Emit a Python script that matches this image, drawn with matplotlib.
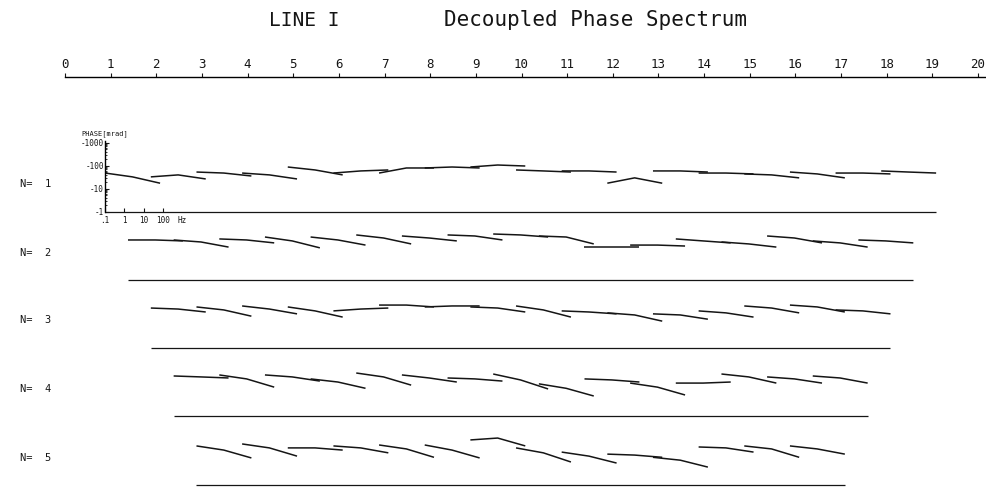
import numpy as np
import matplotlib.pyplot as plt

plt.rcParams['font.family'] = ['DejaVu Sans Mono']

# top ruler: station numbers along LINE I
stations = list(range(0, 21))

# three frequencies at which each small phase spectrum was read [Hz]
freqs = [0.1, 2.6, 70.0]

# separations and the first station of each row
n_values = [1, 2, 3, 4, 5]
first_station = [1.0, 1.5, 2.0, 2.5, 3.0]

# decoupled phase [mrad] at the three freqs, one triple per station
phase_n1 = [[-47, -32, -17], [-32, -39, -26], [-52, -47, -35], [-47, -39, -26],
            [-86, -64, -39], [-47, -58, -64], [-47, -78, -78], [-78, -86, -78],
            [-86, -105, -95], [-64, -58, -52], [-58, -58, -52], [-17, -29, -17],
            [-58, -58, -52], [-47, -47, -43], [-43, -39, -29], [-52, -43, -29],
            [-47, -47, -43], [-58, -52, -47]]
phase_n2 = [[-55, -55, -50], [-55, -45, -27], [-61, -55, -41], [-74, -50, -25],
            [-74, -55, -33], [-91, -67, -37], [-82, -67, -50], [-91, -82, -55],
            [-100, -91, -74], [-82, -74, -37], [-27, -27, -27], [-33, -33, -30],
            [-61, -50, -41], [-45, -37, -27], [-82, -67, -41], [-50, -41, -27],
            [-55, -50, -41]]
phase_n3 = [[-52, -47, -35], [-58, -43, -23], [-64, -47, -29], [-58, -39, -21],
            [-39, -47, -52], [-70, -70, -58], [-58, -64, -64], [-58, -52, -35],
            [-64, -43, -21], [-39, -35, -29], [-32, -26, -14], [-29, -26, -17],
            [-39, -32, -21], [-64, -52, -32], [-70, -58, -35], [-43, -39, -29]]
phase_n4 = [[-55, -50, -45], [-61, -41, -18], [-61, -50, -33], [-41, -30, -16],
            [-74, -50, -22], [-61, -45, -30], [-45, -41, -33], [-67, -37, -15],
            [-25, -16, -7.4], [-41, -37, -30], [-27, -18, -8.2], [-27, -27, -30],
            [-67, -50, -27], [-50, -41, -27], [-55, -45, -27]]
phase_n5 = [[-50, -33, -15], [-61, -41, -18], [-41, -41, -33], [-50, -41, -25],
            [-55, -37, -16], [-55, -33, -15], [-91, -110, -50], [-41, -25, -10],
            [-27, -18, -9], [-22, -20, -16], [-16, -12, -6], [-45, -41, -27],
            [-50, -37, -16], [-50, -37, -22]]

phases = [phase_n1, phase_n2, phase_n3, phase_n4, phase_n5]

W, H = 986, 493
fig = plt.figure(figsize=(W / 100, H / 100), dpi=100)

px_per_st = 45.65
x0_px = 65
xlim = (-x0_px / px_per_st, (W - x0_px) / px_per_st)
dec_x = 19.3 / px_per_st      # width of one frequency decade in station units
dec_y = 23.0                  # pixels per phase decade
ink = '#151515'

# title
fig.text(304 / W, 1 - 20 / H, 'LINE I', ha='center', va='center', fontsize=14, color=ink)
fig.text(596 / W, 1 - 20 / H, 'Decoupled Phase Spectrum', ha='center', va='center',
         fontsize=15, color=ink)

# top ruler
ax_top = fig.add_axes([0, 1 - 77 / H, 1, 0.001])
ax_top.set_xlim(xlim)
for s in ['left', 'right', 'bottom']:
    ax_top.spines[s].set_visible(False)
ax_top.spines['top'].set_bounds(0, xlim[1])
ax_top.spines['top'].set_linewidth(1.0)
ax_top.xaxis.tick_top()
ax_top.set_xticks(stations)
ax_top.set_xticklabels([str(s) for s in stations])
ax_top.tick_params(axis='x', direction='out', length=3, pad=1, labelsize=9, colors=ink)
ax_top.set_yticks([])

baselines_px = [211.5, 280, 347.5, 416, 485]
for k, (n, st0, rows) in enumerate(zip(n_values, first_station, phases)):
    b = baselines_px[k]
    bot, top = b + 12, b - 92
    ax = fig.add_axes([0, 1 - bot / H, 1, (bot - top) / H])
    ax.set_xlim(xlim)
    ax.set_yscale('log')
    ax.set_ylim(10 ** (-12 / dec_y), 10 ** (92 / dec_y))
    ax.axis('off')

    x_start = st0 - 0.12
    x_end = st0 + len(rows) - 1 - 0.12 + dec_x * np.log10(freqs[-1] / freqs[0])
    ax.hlines(1, x_start, x_end, color=ink, lw=0.9)

    for i, ph in enumerate(rows):
        x = st0 + i - 0.12 + dec_x * np.log10(np.array(freqs) / freqs[0])
        ax.plot(x, -np.array(ph, dtype=float), color=ink, lw=1.1, solid_capstyle='butt')

    ax.text(-0.99, 15, 'N=  %d' % n, ha='left', va='center', fontsize=7.5, color=ink)

# small log-log frame on the N=1 row
b = baselines_px[0]
ix_px = x0_px + (first_station[0] - 0.12) * px_per_st
in_w, in_h = 85, dec_y * np.log10(1200)
ax_in = fig.add_axes([ix_px / W, 1 - b / H, in_w / W, in_h / H])
ax_in.set_xscale('log')
ax_in.set_yscale('log')
ax_in.set_xlim(0.1, 0.1 * 10 ** (in_w / 19.3))
ax_in.set_ylim(1, 1200)
ax_in.patch.set_alpha(0)
ax_in.spines['top'].set_visible(False)
ax_in.spines['right'].set_visible(False)
ax_in.spines['bottom'].set_visible(False)
ax_in.spines['left'].set_linewidth(1.0)
ax_in.set_yticks([1, 10, 100, 1000])
ax_in.set_yticklabels(['-1', '-10', '-100', '-1000'])
ax_in.set_xticks([0.1, 1, 10, 100])
ax_in.set_xticklabels(['.1', '1', '10', '100'])
ax_in.tick_params(which='both', direction='in', labelsize=5.5, colors=ink)
ax_in.tick_params(axis='y', pad=1)
ax_in.tick_params(axis='x', pad=3)
ax_in.tick_params(which='major', length=3)
ax_in.tick_params(which='minor', length=1.5)
ax_in.text(0.0, 1.05, 'PHASE[mrad]', transform=ax_in.transAxes, fontsize=5,
           ha='center', va='bottom', color=ink)
ax_in.text(0.9, -0.06, 'Hz', transform=ax_in.transAxes, fontsize=5.5,
           ha='center', va='top', color=ink)

fig.savefig('out.png', dpi=100, facecolor='white')
